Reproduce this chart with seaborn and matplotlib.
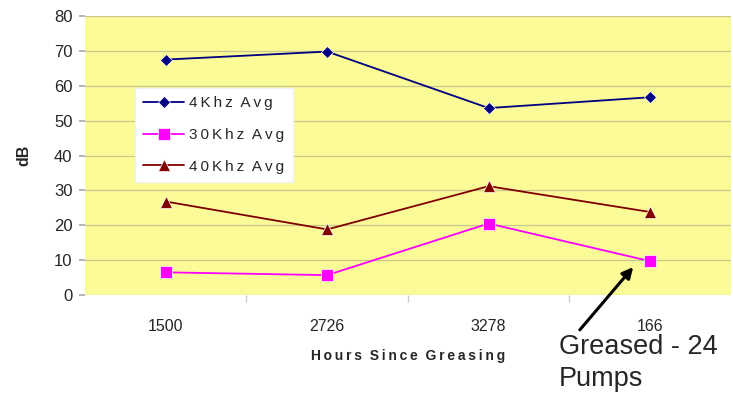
import matplotlib
matplotlib.use("Agg")
import matplotlib.pyplot as plt
import seaborn as sns
import pandas as pd

hours = ["1500", "2726", "3278", "166"]
khz4 = [67.5, 69.8, 53.6, 56.7]
khz30 = [6.5, 5.7, 20.5, 9.7]
khz40 = [26.8, 18.8, 31.2, 23.8]
series_names = ["4Khz Avg", "30Khz Avg", "40Khz Avg"]
y_ticks = [0, 10, 20, 30, 40, 50, 60, 70, 80]

sns.set_theme(style="white")
plt.rcParams["font.family"] = ["Liberation Sans", "DejaVu Sans"]

df = pd.DataFrame({
    "Hours": hours * 3,
    "dB": khz4 + khz30 + khz40,
    "Series": [series_names[0]] * 4 + [series_names[1]] * 4 + [series_names[2]] * 4,
})

fig = plt.figure(figsize=(7.33, 4.0), dpi=100)
ax = fig.add_axes([0.116, 0.2625, 0.881, 0.6975])
ax.set_facecolor("#fbfb98")

palette = {"4Khz Avg": "#000080", "30Khz Avg": "#ff00ff", "40Khz Avg": "#800000"}
markers = {"4Khz Avg": "D", "30Khz Avg": "s", "40Khz Avg": "^"}
sns.lineplot(data=df, x="Hours", y="dB", hue="Series", style="Series",
             palette=palette, markers=markers, dashes=False, sort=False,
             markersize=8, linewidth=1.3, markeredgewidth=0.5, ax=ax)
for ln in ax.lines:
    if ln.get_marker() == "D":
        ln.set_markersize(6.5)

ax.set_xlim(-0.5, 3.5)
ax.set_ylim(0, 80)
ax.set_yticks(y_ticks)
ax.yaxis.grid(True, color="#c9c98f", linewidth=0.9)
ax.set_axisbelow(True)
for s in ax.spines.values():
    s.set_visible(False)

ax.tick_params(axis="y", left=True, length=4, color="#aaaaaa", labelsize=12, pad=5)
ax.tick_params(axis="x", bottom=False, labelsize=11.5, pad=11)
ax.set_xticks([0.5, 1.5, 2.5], minor=True)
ax.tick_params(axis="x", which="minor", bottom=True, length=5, color="#cccccc")

ts = "\u2009"
xlab = "  ".join(ts.join(w) for w in "Hours Since Greasing".split())
ax.set_xlabel(xlab, fontsize=10, fontweight="bold", labelpad=11)
ax.set_ylabel("dB", fontsize=11.5, fontweight="bold", labelpad=16)

leg = ax.legend(loc="upper left", bbox_to_anchor=(0.077, 0.742), borderaxespad=0,
                fancybox=False, frameon=True, fontsize=11, handlelength=2.7,
                labelspacing=1.15, borderpad=0.55, handletextpad=0.3)
leg.get_frame().set_facecolor("white")
leg.get_frame().set_edgecolor("#f2f2f2")
leg.get_frame().set_alpha(1)
for t in leg.get_texts():
    txt = t.get_text()
    t.set_text("  ".join(ts.join(w) for w in txt.split()))

ax.annotate("", xy=(635, 400 - 265), xycoords="figure pixels",
            xytext=(578, 400 - 332), textcoords="figure pixels",
            arrowprops=dict(arrowstyle="-|>", color="black", lw=2.2, mutation_scale=16),
            annotation_clip=False)
fig.text(559 / 733, 1 - 354 / 400, "Greased - 24", fontsize=19.5,
         ha="left", va="baseline")
fig.text(559 / 733, 1 - 386 / 400, "Pumps", fontsize=19.5,
         ha="left", va="baseline")

fig.savefig("out.png", dpi=100, facecolor="white")
